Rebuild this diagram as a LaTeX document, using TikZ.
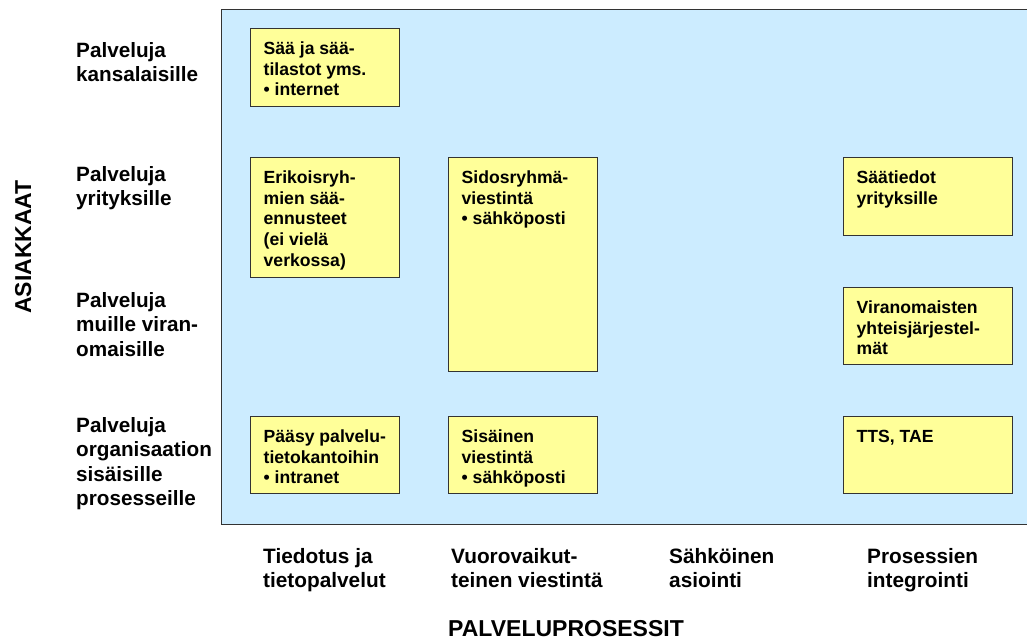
\documentclass[tikz,border=0pt]{standalone}
\usepackage{fontspec}
\setmainfont{Liberation Sans}
\usetikzlibrary{calc}
\definecolor{panelblue}{HTML}{CCECFF}
\definecolor{cellyellow}{HTML}{FFFF99}
\definecolor{edgegray}{HTML}{333333}
% fixed-height strut so the top anchor sits a known distance above the first baseline
\newcommand{\topstrut}[1]{\rule{0pt}{#1}}
\begin{document}
\begin{tikzpicture}[x=1pt,y=-1pt,
  cell/.style={draw=edgegray, line width=1.2pt, fill=cellyellow, rectangle, inner sep=0pt, anchor=north west},
  celltext/.style={anchor=north west, align=left, inner sep=0pt, font=\bfseries\fontsize{17.6}{20.6}\selectfont},
  rowlabel/.style={anchor=north west, align=left, inner sep=0pt, font=\bfseries\fontsize{20.7}{24.4}\selectfont},
  collabel/.style={anchor=north west, align=left, inner sep=0pt, font=\bfseries\fontsize{20.8}{24}\selectfont},
  axislabel/.style={inner sep=0pt, font=\bfseries\fontsize{23}{26}\selectfont}]
\useasboundingbox (0,0) rectangle (1027,639);
\clip (0,0) rectangle (1027,639);
% background panel
\node[draw=edgegray, line width=1.2pt, fill=panelblue, rectangle, inner sep=0pt,
      anchor=north west, minimum width=820pt, minimum height=515pt] (panel) at (221,9) {};
% cells
\node[cell, minimum width=149pt, minimum height=78pt] (b1) at (250,28) {};
\node[cell, minimum width=149pt, minimum height=120pt] (b2) at (250,157) {};
\node[cell, minimum width=149pt, minimum height=214pt] (b3) at (448,157) {};
\node[cell, minimum width=149pt, minimum height=77pt] (b4) at (250,416) {};
\node[cell, minimum width=149pt, minimum height=77pt] (b5) at (448,416) {};
\node[cell, minimum width=169pt, minimum height=78pt] (b6) at (843,157) {};
\node[cell, minimum width=169pt, minimum height=77pt] (b7) at (843,287) {};
\node[cell, minimum width=169pt, minimum height=77pt] (b8) at (843,416) {};
% cell texts (first baseline 26.5 below the cell top)
\node[celltext] (t1) at ($(b1.north west)+(13.5,11.5)$) {\topstrut{15pt}Sää ja sää-\\tilastot yms.\\• internet};
\node[celltext] (t2) at ($(b2.north west)+(13.5,11.5)$) {\topstrut{15pt}Erikoisryh-\\mien sää-\\ennusteet\\(ei vielä\\verkossa)};
\node[celltext] (t3) at ($(b3.north west)+(13.5,11.5)$) {\topstrut{15pt}Sidosryhmä-\\viestintä\\• sähköposti};
\node[celltext] (t4) at ($(b4.north west)+(13.5,11.5)$) {\topstrut{15pt}Pääsy palvelu-\\tietokantoihin\\• intranet};
\node[celltext] (t5) at ($(b5.north west)+(13.5,11.5)$) {\topstrut{15pt}Sisäinen\\viestintä\\• sähköposti};
\node[celltext] (t6) at ($(b6.north west)+(13.5,11.5)$) {\topstrut{15pt}Säätiedot\\yrityksille};
\node[celltext] (t7) at ($(b7.north west)+(13.5,11.5)$) {\topstrut{15pt}Viranomaisten\\yhteisjärjestel-\\mät};
\node[celltext] (t8) at ($(b8.north west)+(13.5,11.5)$) {\topstrut{15pt}TTS, TAE};
% row labels (strut 18, so top = first baseline - 18)
\node[rowlabel] (r1) at (76,39) {\topstrut{18pt}Palveluja\\kansalaisille};
\node[rowlabel] (r2) at (76,163) {\topstrut{18pt}Palveluja\\yrityksille};
\node[rowlabel] (r3) at (76,289) {\topstrut{18pt}Palveluja\\muille viran-\\omaisille};
\node[rowlabel] (r4) at (76,414) {\topstrut{18pt}Palveluja\\organisaation\\sisäisille\\prosesseille};
% column labels
\node[collabel] (c1) at (263,545) {\topstrut{18pt}Tiedotus ja\\tietopalvelut};
\node[collabel] (c2) at (451,545) {\topstrut{18pt}Vuorovaikut-\\teinen viestintä};
\node[collabel] (c3) at (669,545) {\topstrut{18pt}Sähköinen\\asiointi};
\node[collabel] (c4) at (867,545) {\topstrut{18pt}Prosessien\\integrointi};
% axis titles
\node[axislabel, anchor=base] (ylab) at (31,247) [rotate=90] {ASIAKKAAT};
\node[axislabel, anchor=base] (xlab) at (566,636) {PALVELUPROSESSIT};
\end{tikzpicture}
\end{document}
